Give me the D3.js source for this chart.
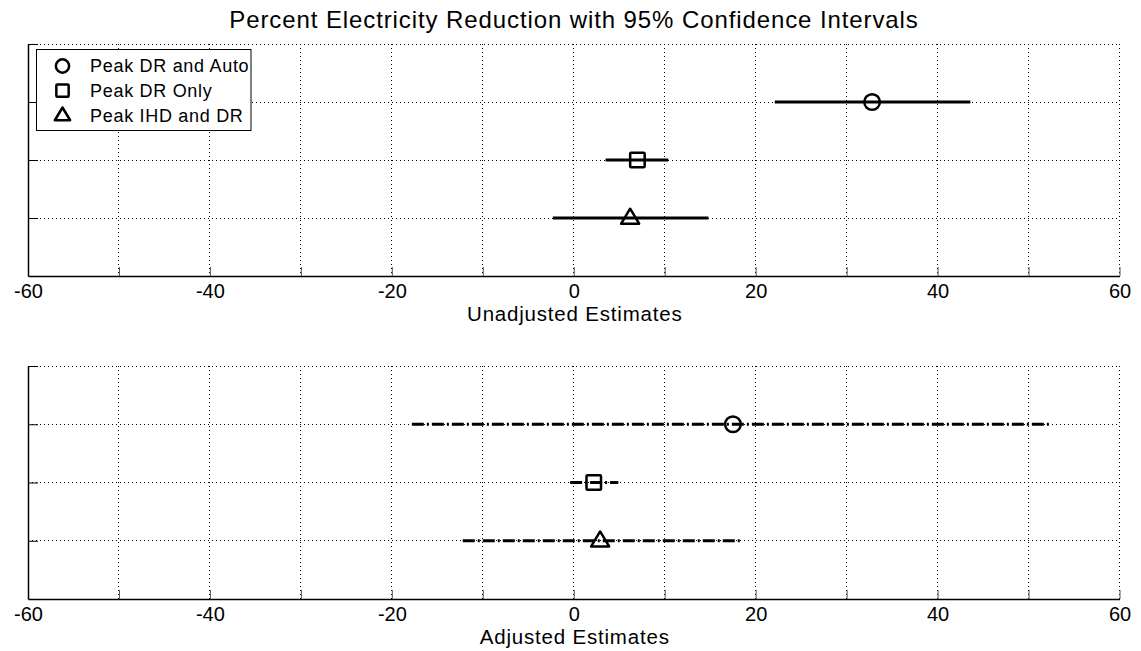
<!DOCTYPE html>
<html>
<head>
  <title>Percent Electricity Reduction</title>
  <style>
    body { margin: 0; background: #fff; }
    text { font-family: "Liberation Sans", Arial, sans-serif; fill: #000; }
  </style>
</head>
<body>
  <svg id="svg"></svg>

  <script src="https://d3js.org/d3.v7.min.js"></script>
  <script>
    // data
    let groups = ["Peak DR and Auto", "Peak DR Only", "Peak IHD and DR"];
    let groupRow = [3, 2, 1];
    let unadjEst = [32.8, 7.0, 6.2];
    let unadjLow = [22.1, 3.5, -2.3];
    let unadjHigh = [43.6, 10.4, 14.8];
    let adjEst = [17.5, 2.2, 2.9];
    let adjLow = [-17.8, -0.4, -12.2];
    let adjHigh = [52.5, 4.9, 18.4];
    let xTicks = [-60, -50, -40, -30, -20, -10, 0, 10, 20, 30, 40, 50, 60];
    let xLabels = [-60, -40, -20, 0, 20, 40, 60];
    let yTicks = [1, 2, 3, 4];
    let markers = ["circle", "square", "triangle"];

    let width = 1141, height = 651;
    let svg = d3.select("#svg").attr("width", width).attr("height", height);

    let xScale = d3.scaleLinear().domain([-60, 60]).range([28, 1119.5]);

    svg.append("text")
      .attr("x", 574).attr("y", 28)
      .attr("text-anchor", "middle")
      .style("font-size", "24px")
      .style("letter-spacing", "0.9px")
      .text("Percent Electricity Reduction with 95% Confidence Intervals");

    function drawPanel(top, bottom, est, low, high, label, dash, showLegend) {
      let yScale = d3.scaleLinear().domain([0, 4]).range([bottom, top]);
      let g = svg.append("g");

      // grid
      g.selectAll(".vgrid").data(xTicks).join("line")
        .attr("x1", d => xScale(d)).attr("x2", d => xScale(d))
        .attr("y1", top).attr("y2", bottom)
        .attr("stroke", "#000").attr("stroke-width", 1)
        .attr("stroke-dasharray", "1,3")
        .attr("shape-rendering", "crispEdges");
      g.selectAll(".hgrid").data(yTicks).join("line")
        .attr("x1", xScale(-60)).attr("x2", xScale(60))
        .attr("y1", d => yScale(d)).attr("y2", d => yScale(d))
        .attr("stroke", "#000").attr("stroke-width", 1)
        .attr("stroke-dasharray", "1,3")
        .attr("shape-rendering", "crispEdges");

      // axes
      let xAxis = d3.axisBottom(xScale).tickValues(xTicks).tickSizeInner(-9).tickSizeOuter(0)
        .tickFormat(d => xLabels.includes(d) ? d : "");
      let ax = g.append("g").attr("transform", `translate(0, ${bottom})`).call(xAxis);
      ax.select(".domain").attr("stroke", "#000").attr("stroke-width", 1.5);
      ax.selectAll(".tick line").attr("stroke", "#555");
      ax.selectAll("text")
        .attr("fill", "#000")
        .attr("dy", null).attr("y", 21.5)
        .style("font-size", "20px");

      let yAxis = d3.axisLeft(yScale).tickValues(yTicks).tickSizeInner(-10).tickSizeOuter(0)
        .tickFormat("");
      let ay = g.append("g").attr("transform", `translate(${xScale(-60)}, 0)`).call(yAxis);
      ay.select(".domain").attr("stroke", "#000").attr("stroke-width", 1.5);
      ay.selectAll(".tick line").attr("stroke", "#000");

      g.append("text")
        .attr("x", xScale(0) + 1).attr("y", bottom + 45)
        .attr("text-anchor", "middle")
        .style("font-size", "20.5px")
        .style("letter-spacing", "0.8px")
        .text(label);

      // intervals
      g.selectAll(".ci").data(groups).join("line")
        .attr("x1", (d, i) => xScale(low[i])).attr("x2", (d, i) => xScale(high[i]))
        .attr("y1", (d, i) => yScale(groupRow[i])).attr("y2", (d, i) => yScale(groupRow[i]))
        .attr("stroke", "#000").attr("stroke-width", 3)
        .attr("stroke-dasharray", dash);

      groups.forEach((d, i) => {
        drawMarker(g, markers[i], xScale(est[i]), yScale(groupRow[i]));
      });

      if (showLegend) {
        let lg = svg.append("g");
        lg.append("rect").attr("x", 36.5).attr("y", 49.5).attr("width", 214.5).attr("height", 81)
          .attr("fill", "#fff").attr("stroke", "#000").attr("stroke-width", 1);
        groups.forEach((d, i) => {
          let yy = 66 + i * 24.7;
          drawMarker(lg, markers[i], 62.5, yy, 0.85);
          lg.append("text").attr("x", 90).attr("y", yy + 6.2)
            .style("font-size", "18px")
            .style("letter-spacing", "0.7px")
            .text(d);
        });
      }
    }

    function drawMarker(g, type, cx, cy, k = 1) {
      if (type === "circle") {
        g.append("circle").attr("cx", cx).attr("cy", cy).attr("r", 7.8 * k)
          .attr("fill", "none").attr("stroke", "#000").attr("stroke-width", 2.5);
      } else if (type === "square") {
        let s = 14.5 * k;
        g.append("rect").attr("x", cx - s / 2).attr("y", cy - s / 2).attr("width", s).attr("height", s)
          .attr("rx", 1).attr("fill", "none").attr("stroke", "#000").attr("stroke-width", 2.5);
      } else {
        let w = 18 * k, h = 15 * k;
        g.append("path")
          .attr("d", `M${cx},${cy - h * 0.62}L${cx + w / 2},${cy + h * 0.38}L${cx - w / 2},${cy + h * 0.38}Z`)
          .attr("fill", "none").attr("stroke", "#000").attr("stroke-width", 2.5)
          .attr("stroke-linejoin", "round");
      }
    }

    drawPanel(44, 276, unadjEst, unadjLow, unadjHigh, "Unadjusted Estimates", null, true);
    drawPanel(366, 599, adjEst, adjLow, adjHigh, "Adjusted Estimates", "12,3,2,3", false);
  </script>
</body>
</html>
